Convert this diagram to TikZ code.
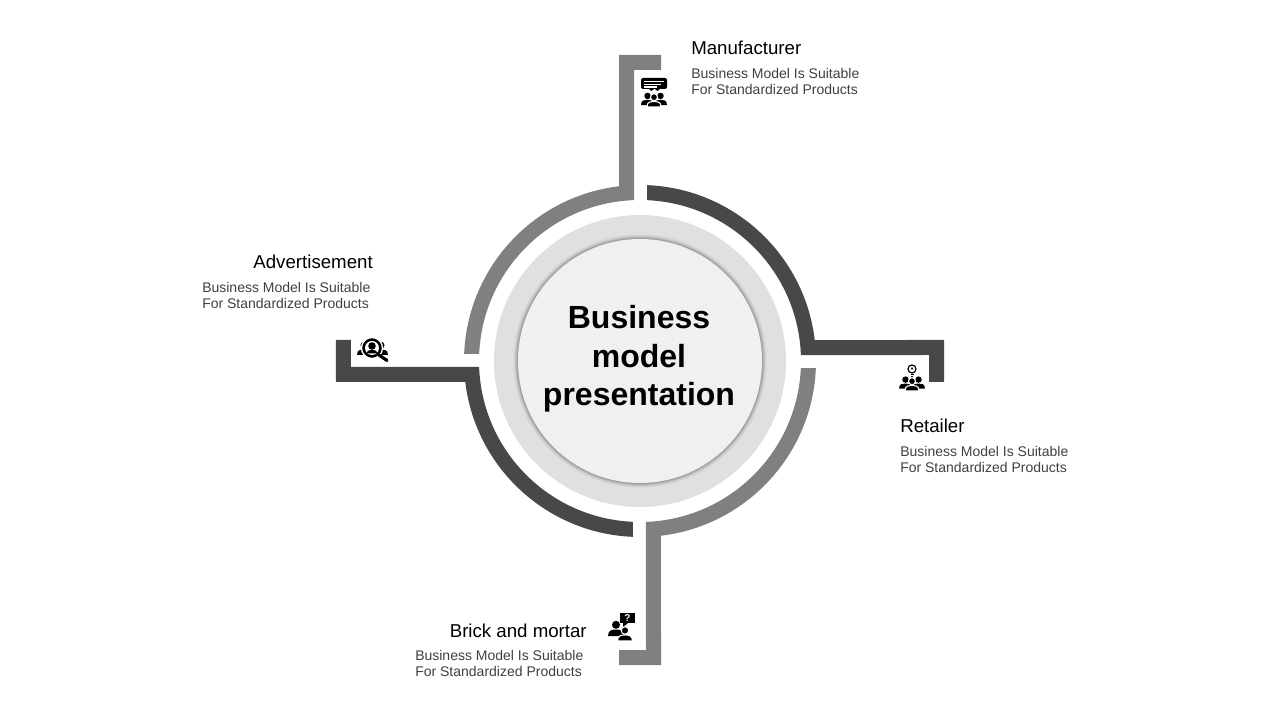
\documentclass[tikz,border=0pt]{standalone}
\usepackage{amsmath}
\usepackage{fontspec}
\setmainfont{Liberation Sans}

\tikzset{
    headtext/.style={inner sep=0pt,text=black,font=\fontsize{14}{16}\selectfont},
    bodytext/.style={inner sep=0pt,text=black!75,align=left,font=\fontsize{10.5}{12}\selectfont},
    titletext/.style={inner sep=0pt,text=black,align=center,font=\bfseries\fontsize{24}{28.9}\selectfont}
}

% one head with shoulders, x y size
\newcommand{\iconperson}[3]{
    \fill (#1,#2+#3*0.9) circle (#3*0.5);
    \fill (#1-#3,#2-#3*0.5) .. controls (#1-#3,#2+#3*0.3) and (#1-#3*0.4,#2+#3*0.3) .. (#1,#2+#3*0.3) .. controls (#1+#3*0.4,#2+#3*0.3) and (#1+#3,#2+#3*0.3) .. (#1+#3,#2-#3*0.5) -- cycle;
}
% the same, with a white edge where it stands in front of others
\newcommand{\iconfront}[3]{
    \draw[white,fill=black,line width=0.8] (#1,#2+#3*0.9) circle (#3*0.5);
    \draw[white,fill=black,line width=0.8] (#1-#3,#2-#3*0.5) .. controls (#1-#3,#2+#3*0.3) and (#1-#3*0.4,#2+#3*0.3) .. (#1,#2+#3*0.3) .. controls (#1+#3*0.4,#2+#3*0.3) and (#1+#3,#2+#3*0.3) .. (#1+#3,#2-#3*0.5) -- cycle;
}

\begin{document}
\begin{tikzpicture}[x=0.75pt,y=0.75pt]
                    \useasboundingbox (-640,-359) rectangle (640,361);
                    \fill[white] (-640,-359) rectangle (640,361);
                    % ring pieces with their arms
                    \foreach \rot/\shade/\reach in {0/484848/304,-90/808080/304,-180/484848/304,-270/808080/306}{
                        \definecolor{piece}{HTML}{\shade}
                        \fill[piece,rotate=\rot] (87.7:176) arc (87.7:6.85:176) -- (\reach,21) -- (\reach,-21) -- (\reach-15,-21) -- (\reach-15,6) -- (2.1:161) arc (2.1:87.5:161) -- cycle;
                    }
                    % discs
                    \fill[black!12] (0,0) circle (146);
                    \foreach \rad/\tone in {127/14,126/18,125/23,124/30,123/38}{
                        \fill[black!\tone] (0,0) circle (\rad);
                    }
                    \fill[black!6] (0,0) circle (122);
                    \node[titletext] (title) at (-1,2) {Business\\model\\presentation};
                    % labels
                    \node[headtext,anchor=base west] (manufacturer) at (51,306.5) {Manufacturer};
                    \node[bodytext,anchor=north west] (manufacturertext) at (51,293) {Business Model Is Suitable\\For Standardized Products};
                    \node[headtext,anchor=base east] (advertisement) at (-267,92.5) {Advertisement};
                    \node[bodytext,anchor=north west] (advertisementtext) at (-438,79) {Business Model Is Suitable\\For Standardized Products};
                    \node[headtext,anchor=base west] (retailer) at (260,-71.5) {Retailer};
                    \node[bodytext,anchor=north west] (retailertext) at (260,-85) {Business Model Is Suitable\\For Standardized Products};
                    \node[headtext,anchor=base east] (brick) at (-53,-276.5) {Brick and mortar};
                    \node[bodytext,anchor=north west] (bricktext) at (-225,-289) {Business Model Is Suitable\\For Standardized Products};
                    % manufacturer icon
                    \fill[rounded corners=1.5] (1,283) rectangle (27,272);
                    \fill (9,272) -- (14,272) -- (11.5,270) -- cycle;
                    \fill (15,272) -- (20,272) -- (17.5,270) -- cycle;
                    \draw[white,line width=0.8] (4,279.5) -- (24,279.5) (4,276.5) -- (21,276.5) (4,274) -- (17,274);
                    \iconperson{7.5}{259.2}{6.5}
                    \iconperson{20.5}{259.2}{6.5}
                    \iconfront{14}{257.5}{7}
                    % advertisement icon
                    \iconperson{-276}{9.5}{7}
                    \iconperson{-259}{9.5}{7}
                    \draw[white,fill=black,line width=1] (-268,13) circle (10.5);
                    \fill[white] (-268,13) circle (7);
                    \fill (-268,15) circle (3.8);
                    \fill (-274,7.5) .. controls (-273,12.5) and (-263,12.5) .. (-262,7.5) -- cycle;
                    \draw[line width=2.4,line cap=round] (-261,6) -- (-253,0.5);
                    % retailer icon
                    \draw[line width=0.9] (272,-8) circle (4);
                    \fill (272,-6) -- (270.5,-8.5) -- (273.5,-8.5) -- cycle;
                    \draw[line width=0.9] (270.5,-13.5) -- (273.5,-13.5) (271,-15.5) -- (273,-15.5);
                    \iconperson{265.5}{-24.5}{6.5}
                    \iconperson{278.5}{-24.5}{6.5}
                    \iconfront{272}{-26.5}{7}
                    % brick icon
                    \fill (-20,-252) rectangle (-5,-262);
                    \fill (-17,-262) -- (-17,-266) -- (-12,-262) -- cycle;
                    \node[inner sep=0pt,text=white,font=\bfseries\fontsize{7.5}{8}\selectfont] (question) at (-12.5,-257) {?};
                    \iconperson{-24}{-271}{8}
                    \iconfront{-15}{-276.2}{7.5}
                \end{tikzpicture}
\end{document}
